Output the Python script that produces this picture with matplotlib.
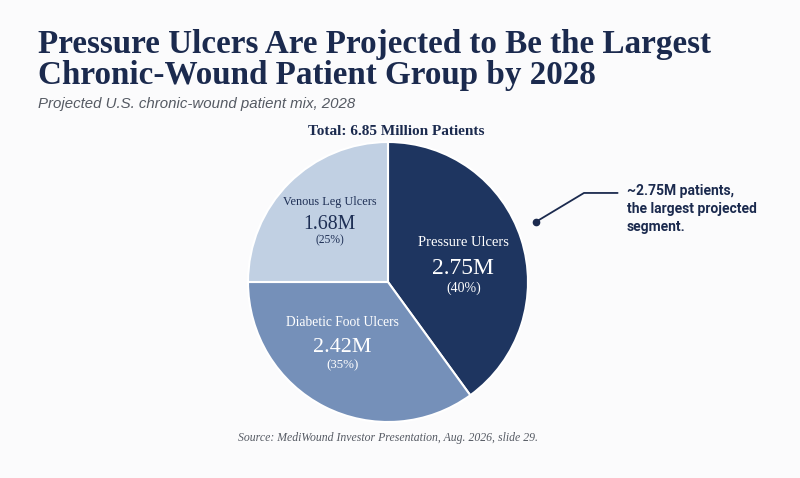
import numpy as np
import matplotlib
matplotlib.use("Agg")
import matplotlib.pyplot as plt

# data
segments = ["Pressure Ulcers", "Diabetic Foot Ulcers", "Venous Leg Ulcers"]
patients_m = [2.75, 2.42, 1.68]
shares_pct = [40, 35, 25]
total_m = 6.85

colors = ["#1e3560", "#7590b9", "#c1d0e3"]
text_colors = ["white", "white", "#1e2f55"]
label_radius = [0.55, 0.55, 0.60]
label_shift = [-6, -9, -1]  # degrees, nudges labels off the exact mid-angle
label_scale = [1.0, 0.93, 0.84]  # smaller slices get smaller type

navy = "#1b2a4e"
bg = "#fbfbfc"

fig = plt.figure(figsize=(8, 4.78), dpi=100)
fig.patch.set_facecolor(bg)

# titles
fig.text(38 / 800, 1 - 53 / 478, "Pressure Ulcers Are Projected to Be the Largest",
         fontsize=23.9, fontweight="bold", family="Liberation Serif", color=navy,
         ha="left", va="baseline")
fig.text(38 / 800, 1 - 84 / 478, "Chronic-Wound Patient Group by 2028",
         fontsize=23.9, fontweight="bold", family="Liberation Serif", color=navy,
         ha="left", va="baseline")
fig.text(38 / 800, 1 - 108 / 478, "Projected U.S. chronic-wound patient mix, 2028",
         fontsize=10.8, style="italic", family="Liberation Sans", color="#555a63",
         ha="left", va="baseline")
fig.text(396 / 800, 1 - 135 / 478, f"Total: {total_m:.2f} Million Patients",
         fontsize=11, fontweight="bold", family="Liberation Serif", color=navy,
         ha="center", va="baseline")

# pie
ax = fig.add_axes([248 / 800, 56 / 478, 280 / 800, 280 / 478])
ax.set_facecolor(bg)
wedges, _ = ax.pie(shares_pct, colors=colors, startangle=90, counterclock=False,
                   wedgeprops=dict(edgecolor="white", linewidth=1.5))
ax.set_xlim(-1.0, 1.0)
ax.set_ylim(-1.0, 1.0)
ax.set_aspect("equal")
ax.axis("off")

for w, name, val, pct, tc, r, sh, k in zip(wedges, segments, patients_m, shares_pct,
                                           text_colors, label_radius, label_shift,
                                           label_scale):
    ang = np.deg2rad((w.theta1 + w.theta2) / 2 + sh)
    x, y = r * np.cos(ang), r * np.sin(ang)
    ax.text(x, y + 0.17 * k, name, ha="center", va="center", color=tc,
            family="Liberation Serif", fontsize=10.5 * k)
    ax.text(x, y - 0.02, f"{val:.2f}M", ha="center", va="center", color=tc,
            family="Liberation Serif", fontsize=17 * k)
    ax.text(x, y - 0.16 * k, f"({pct}%)", ha="center", va="center", color=tc,
            family="Liberation Serif", fontsize=10 * k)

# callout for the largest segment
ax.annotate("", xy=(1.057, 0.43), xytext=(1.66, 0.636),
            arrowprops=dict(arrowstyle="-", color=navy, lw=1.3,
                            connectionstyle="angle,angleA=0,angleB=31,rad=0"),
            annotation_clip=False)
ax.plot([1.057], [0.43], "o", color=navy, markersize=4.5, clip_on=False)
fig.text(627 / 800, 1 - 184 / 478,
         "~2.75M patients,\nthe largest projected\nsegment.",
         fontsize=10, fontweight="bold", family="Roboto", color=navy,
         ha="left", va="top", linespacing=1.35)

fig.text(388 / 800, 1 - 441 / 478,
         "Source: MediWound Investor Presentation, Aug. 2026, slide 29.",
         fontsize=8.5, style="italic", family="Liberation Serif", color="#555a63",
         ha="center", va="baseline")

fig.savefig("out.png", dpi=100, facecolor=bg)
